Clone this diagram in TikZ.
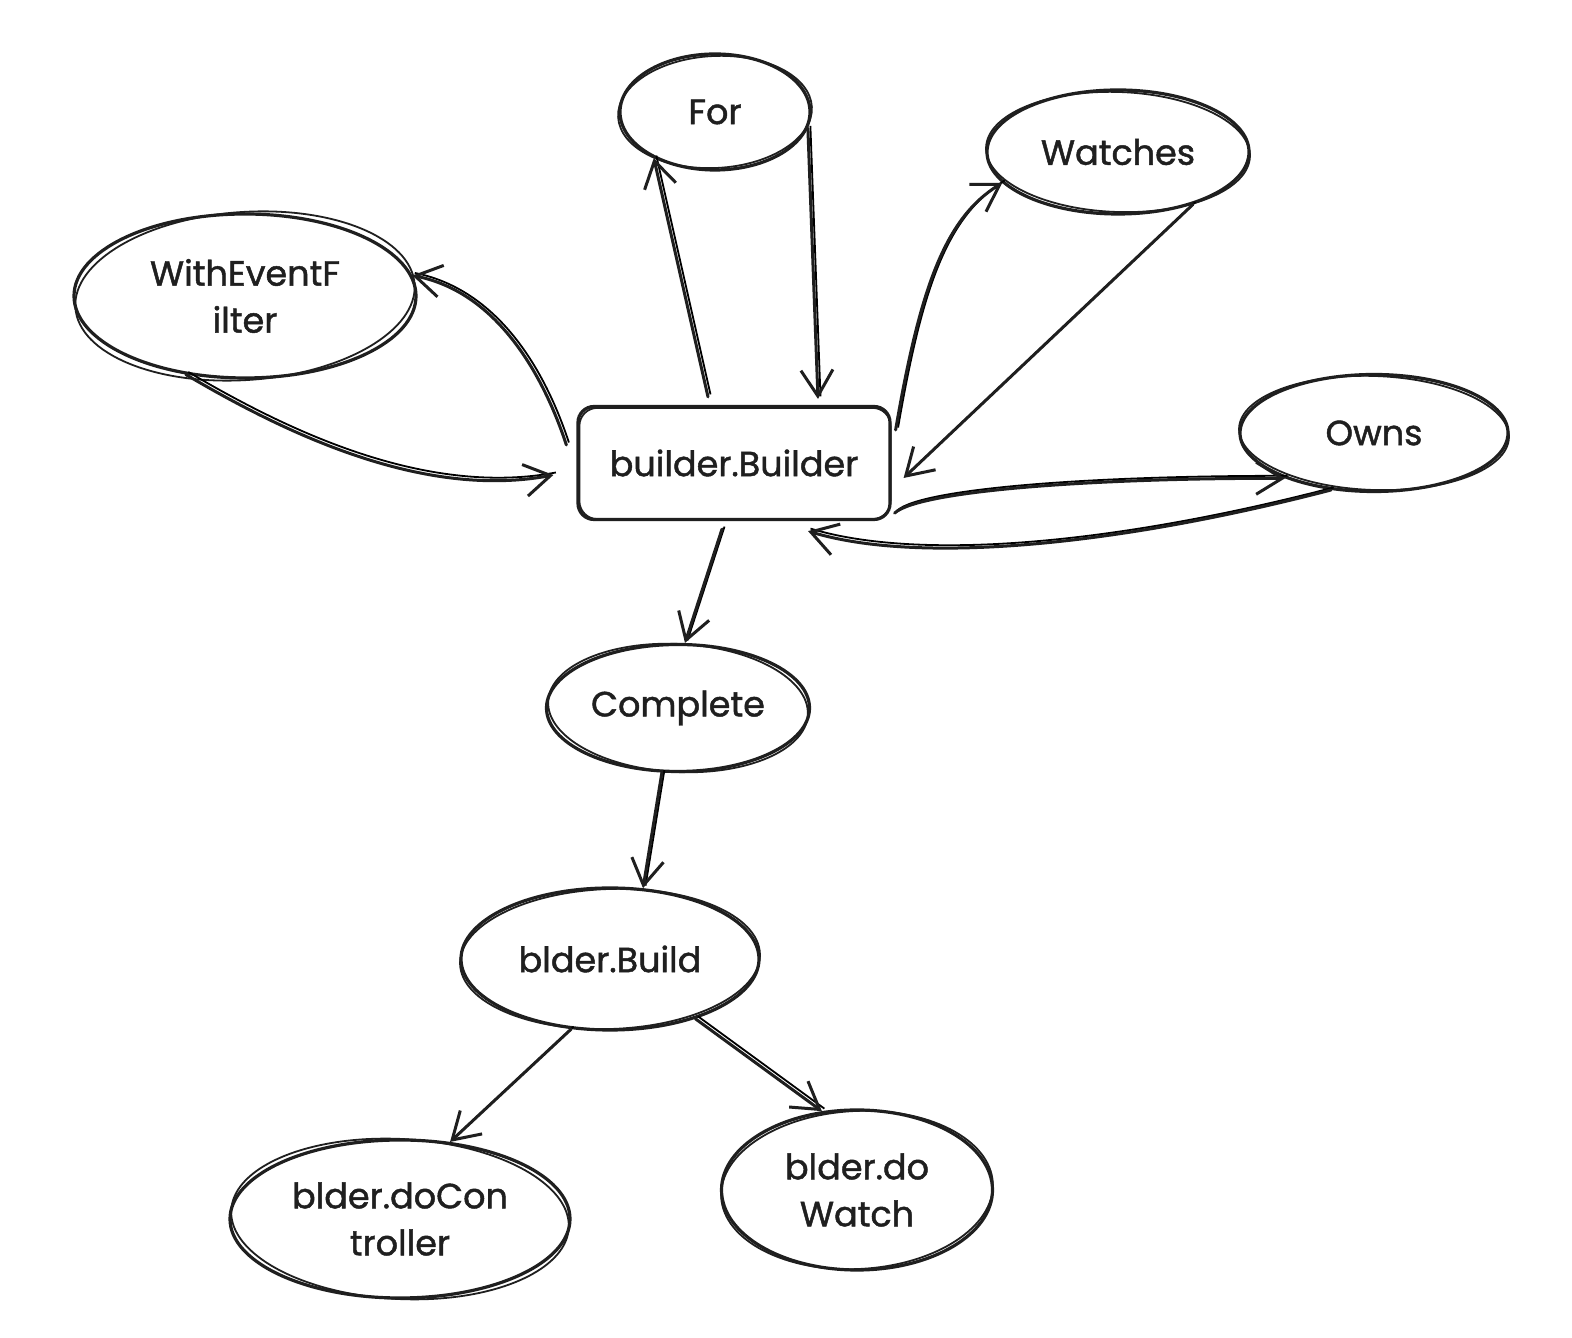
\documentclass[tikz,border=0pt]{standalone}
\usepackage{fontspec}
\setmainfont{Poppins}[BoldFont=Poppins, BoldFeatures={FakeBold=1.3}]
\usetikzlibrary{arrows.meta,shapes.geometric}
\tikzset{
  ink/.style={line width=3.2pt, draw=black!88},
  lbl/.style={font=\fontsize{35}{47}\selectfont\bfseries, text=black!88},
  enode/.style={ellipse, ink, inner sep=0pt, align=center, lbl},
  bnode/.style={rectangle, rounded corners=16pt, ink, inner sep=0pt, align=center, lbl},
  outline2/.style={line width=1.8pt, draw=black!88},
  conn/.style={line width=3pt, draw=black!88, line cap=round,
    -{Straight Barb[length=26pt,width=32pt,line width=3pt]},
    preaction={draw, line width=1.8pt, -, transform canvas={shift={(2.5pt,2.5pt)}}}}
}
\newcommand\skE[4]{\draw[outline2, rotate around={#4:(#1.center)}] (#1.center) ellipse [x radius=#2, y radius=#3];}
\begin{document}
\begin{tikzpicture}[x=1pt,y=1pt]
\useasboundingbox[fill=white] (0,0) rectangle (1572,1338);
% nodes
\node[enode, minimum width=190pt, minimum height=116pt] (For) at (715,1226) {For};
\node[enode, minimum width=262pt, minimum height=124pt] (Watches) at (1118,1186) {Watches};
\node[enode, minimum width=342pt, minimum height=164pt] (WEF) at (245,1042) {WithEventF\\ilter};
\node[enode, minimum width=268pt, minimum height=117pt] (Owns) at (1374,905) {Owns};
\node[bnode, minimum width=312pt, minimum height=113pt] (builder) at (734,875) {builder.Builder};
\node[enode, minimum width=263pt, minimum height=127pt] (Complete) at (678,630) {Complete};
\node[enode, minimum width=298pt, minimum height=142pt] (Build) at (610,379) {blder.Build};
\node[enode, minimum width=340pt, minimum height=158pt] (doCtl) at (400,119) {blder.doCon\\troller};
\node[enode, minimum width=271pt, minimum height=160pt] (doW) at (857,148) {blder.do\\Watch};
% second sketch outlines
\skE{For}{97}{56}{3}
\skE{Watches}{132}{60}{-2}
\skE{WEF}{170}{84}{4}
\skE{Owns}{135}{57}{-2}
\skE{Complete}{130}{64}{-3}
\skE{Build}{150}{70}{2}
\skE{doCtl}{169}{80}{-3}
\skE{doW}{136}{79}{3}
\draw[outline2, rounded corners=18pt] ([shift={(3pt,-3pt)}]builder.north west) rectangle ([shift={(-1pt,2pt)}]builder.south east);
% connectors
\draw[conn] ([xshift=-26pt,yshift=8pt]builder.north) -- (For.217);
\draw[conn] (For.350) -- ([xshift=84pt,yshift=6pt]builder.north);
\draw[conn] ([xshift=4pt,yshift=33pt]builder.east) .. controls (920,1050) and (945,1120) .. (Watches.195);
\draw[conn] (Watches.325) -- ([xshift=12pt,yshift=-15pt]builder.east);
\draw[conn] ([xshift=-10pt,yshift=18pt]builder.west) .. controls (545,958) and (500,1045) .. (WEF.7);
\draw[conn] (WEF.233) .. controls (280,908) and (420,838) .. ([xshift=-23pt,yshift=-12pt]builder.west);
\draw[conn] ([xshift=3pt,yshift=8pt]builder.south east) .. controls (920,848) and (1100,860) .. (Owns.207);
\draw[conn] (Owns.233) .. controls (1120,793) and (920,773) .. ([xshift=74pt,yshift=-10pt]builder.south);
\draw[conn] ([xshift=-12pt,yshift=-8pt]builder.south) -- ([xshift=7pt]Complete.north);
\draw[conn] (Complete.256) -- (Build.65);
\draw[conn] (Build.241) -- (doCtl.57);
\draw[conn] (Build.325) -- (doW.114);
\end{tikzpicture}
\end{document}
